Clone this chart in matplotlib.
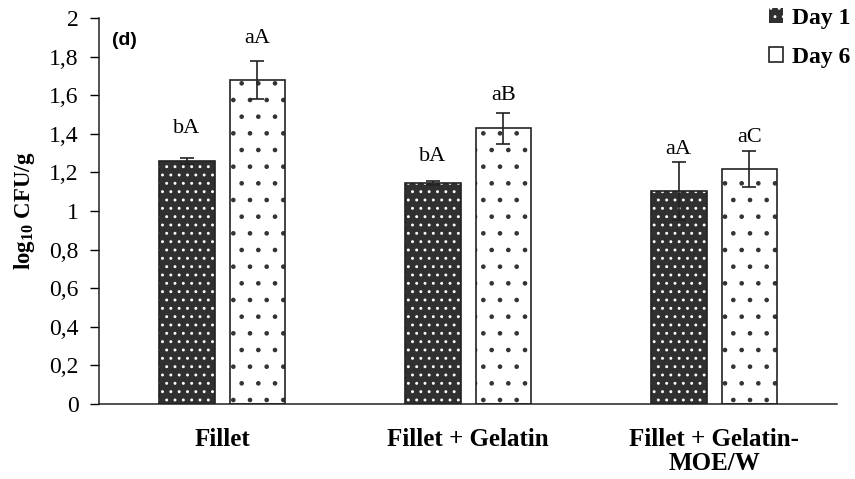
import numpy as np
import matplotlib.pyplot as plt
from matplotlib.patches import Patch

plt.rcParams['font.family'] = 'Liberation Serif'
plt.rcParams['mathtext.fontset'] = 'custom'
plt.rcParams['mathtext.rm'] = 'Liberation Serif'
plt.rcParams['mathtext.bf'] = 'Liberation Serif:bold'
plt.rcParams['hatch.linewidth'] = 0.9

categories = ["Fillet", "Fillet + Gelatin", "Fillet + Gelatin-\nMOE/W"]
day1 = [1.26, 1.147, 1.104]
day1_err = [0.017, 0.010, 0.150]
day6 = [1.68, 1.428, 1.218]
day6_err = [0.098, 0.080, 0.095]
day1_letters = ["bA", "bA", "aA"]
day6_letters = ["aA", "aB", "aC"]
day1_letter_y = [1.404, 1.259, 1.295]
day6_letter_y = [1.87, 1.575, 1.357]
yticks = [0, 0.2, 0.4, 0.6, 0.8, 1, 1.2, 1.4, 1.6, 1.8, 2]
ytick_labels = ["0", "0,2", "0,4", "0,6", "0,8", "1", "1,2", "1,4", "1,6", "1,8", "2"]

dark = "#303030"
fig = plt.figure(figsize=(8.55, 4.79), dpi=100)
ax = fig.add_axes([0.1158, 0.1566, 0.979 - 0.1158, 0.9624 - 0.1566])

x = np.arange(len(categories)) + 0.5
w = 0.227
off = 0.144

# Day 1: dark with white dots
ax.bar(x - off, day1, w, color=dark, edgecolor="white", hatch="..", linewidth=0)
ax.bar(x - off, day1, w, color="none", edgecolor="#222222", linewidth=1.2)
# Day 6: white with dark dots
ax.bar(x + off, day6, w, color="white", edgecolor="#333333", hatch=".", linewidth=0)
ax.bar(x + off, day6, w, color="none", edgecolor="#222222", linewidth=1.2)

ax.errorbar(x - off, day1, yerr=day1_err, fmt="none", ecolor="#222222",
            elinewidth=1.2, capsize=5, capthick=1.2)
ax.errorbar(x + off, day6, yerr=day6_err, fmt="none", ecolor="#222222",
            elinewidth=1.2, capsize=5, capthick=1.2)

for i in range(len(categories)):
    ax.text(x[i] - off, day1_letter_y[i], day1_letters[i], ha="center",
            va="baseline", fontsize=16)
    ax.text(x[i] + off, day6_letter_y[i], day6_letters[i], ha="center",
            va="baseline", fontsize=16)

ax.set_xlim(0, 3)
ax.set_ylim(0, 2)
ax.set_yticks(yticks)
ax.set_yticklabels(ytick_labels, fontsize=17)
ax.set_xticks(x)
ax.set_xticklabels(categories, fontsize=18, fontweight="bold", linespacing=1.1)
ax.tick_params(axis="x", length=0, pad=17)
ax.tick_params(axis="y", direction="out", length=6.5, width=1, pad=8)
for s in ["top", "right"]:
    ax.spines[s].set_visible(False)
for s in ["left", "bottom"]:
    ax.spines[s].set_linewidth(1.1)
    ax.spines[s].set_color("#222222")

ax.set_ylabel(r"log$_{\mathbf{10}}$ CFU/g", fontsize=16.5, fontweight="bold")
ax.yaxis.set_label_coords(-0.084, 0.5)

ax.text(0.018, 0.943, "(d)", transform=ax.transAxes, fontsize=14,
        fontweight="bold", family="Liberation Sans", va="center")

handles = [Patch(facecolor=dark, edgecolor="white", hatch="..", linewidth=0),
           Patch(facecolor="white", edgecolor="#222222", linewidth=1.2)]
leg = fig.legend(handles, ["Day 1", "Day 6"], loc="upper right",
                 bbox_to_anchor=(1.02, 1.027), frameon=False,
                 prop={"family": "Liberation Serif", "weight": "bold", "size": 17},
                 handlelength=0.6, handleheight=0.6, handletextpad=0.4,
                 labelspacing=0.73)

fig.savefig("out.png", dpi=100)
